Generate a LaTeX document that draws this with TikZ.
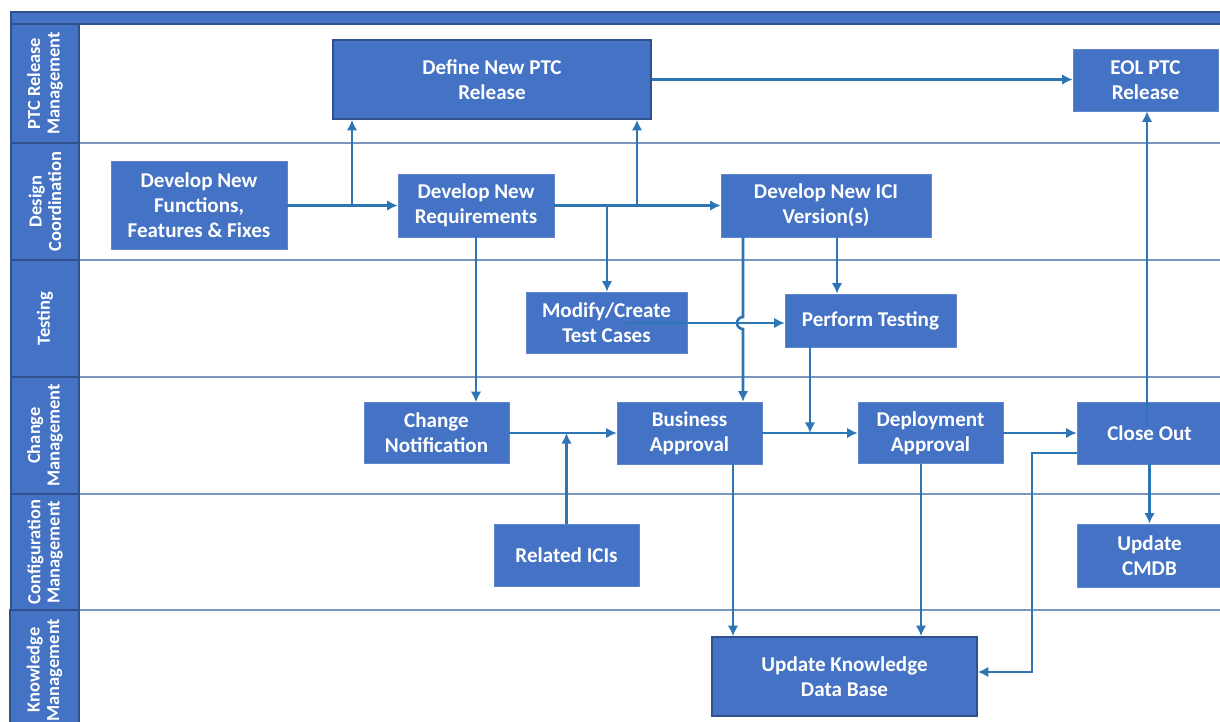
\documentclass[tikz,border=0pt]{standalone}
\usepackage{fontspec}
\usepackage{tikz}
\usetikzlibrary{arrows.meta}
\newfontfamily\boxfont{Carlito}
\definecolor{boxblue}{RGB}{68, 114, 196}
\definecolor{edgeblue}{RGB}{47, 82, 143}
\definecolor{flowblue}{RGB}{46, 117, 182}
\definecolor{laneline}{RGB}{120, 150, 190}

\tikzset{
  proc/.style={fill=boxblue, draw=boxblue!85!white, line width=0.4pt, text=white, align=center, inner sep=2pt,
    font=\boxfont\bfseries\fontsize{12pt}{14.2pt}\selectfont},
  procdark/.style={proc, draw=edgeblue, line width=1pt},
  lanehead/.style={fill=boxblue, draw=edgeblue, line width=1pt, text=white, align=center, rotate=90, inner sep=0pt,
    minimum height=1.36cm, font=\boxfont\bfseries\fontsize{10.5pt}{11pt}\selectfont},
  flow/.style={draw=flowblue, line width=1.5pt, ->},
  lanesep/.style={draw=laneline, line width=0.8pt}
}

\begin{document}
\begin{tikzpicture}[x=0.02cm, y=-0.02cm, >={Latex[length=6pt,width=6pt]}]
    \useasboundingbox (0,0) rectangle (1220,721);
    \fill[white] (0,0) rectangle (1220,721);

    % Lanes
    \draw[fill=boxblue, draw=edgeblue, line width=1pt] (11,12) rectangle (1225,24);
    \foreach \y in {143,260,377,494,610}
        \draw[lanesep] (79,\y) -- (1220,\y);
    \node[lanehead, minimum width=2.38cm] (hptc) at (45,83.5) {PTC Release\\Management};
    \node[lanehead, minimum width=2.34cm] (hdes) at (45,201.5) {Design\\Coordination};
    \node[lanehead, minimum width=2.34cm] (htst) at (45,318.5) {Testing};
    \node[lanehead, minimum width=2.34cm] (hchg) at (45,435.5) {Change\\Management};
    \node[lanehead, minimum width=2.32cm] (hcfg) at (45,552) {Configuration\\Management};
    \node[lanehead, minimum width=2.4cm, minimum height=1.38cm] (hknw) at (44.5,670) {Knowledge\\Management};

    % PTC release row
    \node[procdark, minimum width=6.36cm, minimum height=1.58cm] (defptc) at (492,79.5) {Define New PTC\\Release};
    \node[proc, minimum width=2.9cm, minimum height=1.24cm] (eol) at (1145.5,80) {EOL PTC\\Release};

    % Design row
    \node[proc, minimum width=3.52cm, minimum height=1.76cm] (devfun) at (199,205.5) {Develop New\\Functions,\\Features \& Fixes};
    \node[proc, minimum width=3.12cm, minimum height=1.26cm] (devreq) at (476,205.5) {Develop New\\Requirements};
    \node[proc, minimum width=4.2cm, minimum height=1.26cm] (devici) at (826,205.5) {Develop New ICI\\Version(s)};

    % Testing row
    \node[proc, minimum width=3.22cm, minimum height=1.22cm] (modtc) at (606.5,322.5) {Modify/Create\\Test Cases};
    \node[proc, minimum width=3.42cm, minimum height=1.06cm] (perf) at (870.5,320.5) {Perform Testing};

    % Change row
    \node[proc, minimum width=2.9cm, minimum height=1.22cm] (chnot) at (436.5,433) {Change\\Notification};
    \node[proc, minimum width=2.9cm, minimum height=1.24cm] (busapp) at (689.5,433) {Business\\Approval};
    \node[proc, minimum width=2.9cm, minimum height=1.22cm] (depapp) at (930.5,433) {Deployment\\Approval};
    \node[proc, minimum width=2.9cm, minimum height=1.24cm] (close) at (1149.5,433) {Close Out};

    % Configuration row
    \node[proc, minimum width=2.9cm, minimum height=1.24cm] (relici) at (566.5,555) {Related ICIs};
    \node[proc, minimum width=2.9cm, minimum height=1.26cm] (cmdb) at (1149.5,555.5) {Update\\CMDB};

    % Knowledge row
    \node[procdark, minimum width=5.3cm, minimum height=1.58cm] (ukdb) at (844.5,676.5) {Update Knowledge\\Data Base};

    % Connectors
    \coordinate (j1) at (352,205.5);
    \coordinate (j2) at (607,205.5);
    \coordinate (j3) at (637,205.5);
    \coordinate (tc) at (627,323);
    \coordinate (hop) at (743,323);
    \coordinate (ip) at (837,0);
    \coordinate (pt) at (810,0);
    \coordinate (ce) at (1147,425);
    \coordinate (kb) at (1032,672);
    \coordinate (bk) at (733,0);
    \coordinate (dk) at (921,0);

    \draw[flow] (devfun.east) -- (devreq.west);
    \draw[flow] (j1) -- (j1 |- defptc.south);
    \draw[flow] (devreq.east) -- (devici.west);
    \draw[flow] (j2) -- (j2 |- modtc.north);
    \draw[flow] (j3) -- (j3 |- defptc.south);
    \draw[flow] (defptc.east) -- (defptc.east -| eol.west);
    \draw[flow] (devreq.south) -- (devreq.south |- chnot.north);
    \draw[flow] (devici.south -| ip) -- (perf.north -| ip);
    \draw[flow] (tc) -- (tc -| perf.west);
    \draw[flow] (devici.south -| hop) -- ([yshift=0.12cm]hop) arc[start angle=90, end angle=270, radius=0.12cm] -- (hop |- busapp.north);
    \draw[flow] (chnot.east) -- (busapp.west);
    \draw[flow] (relici.north) -- (relici.north |- chnot.east);
    \draw[flow] (busapp.east) -- (depapp.west);
    \draw[flow] (perf.south -| pt) -- (busapp.east -| pt);
    \draw[flow] (depapp.east) -- (close.west);
    \draw[flow] (ce) -- (ce |- eol.south);
    \draw[flow] (close.south) -- (cmdb.north);
    \draw[flow] ([yshift=-0.4cm]close.west) -| (kb) -- (kb -| ukdb.east);
    \draw[flow] (busapp.south -| bk) -- (ukdb.north -| bk);
    \draw[flow] (depapp.south -| dk) -- (ukdb.north -| dk);
\end{tikzpicture}
\end{document}
